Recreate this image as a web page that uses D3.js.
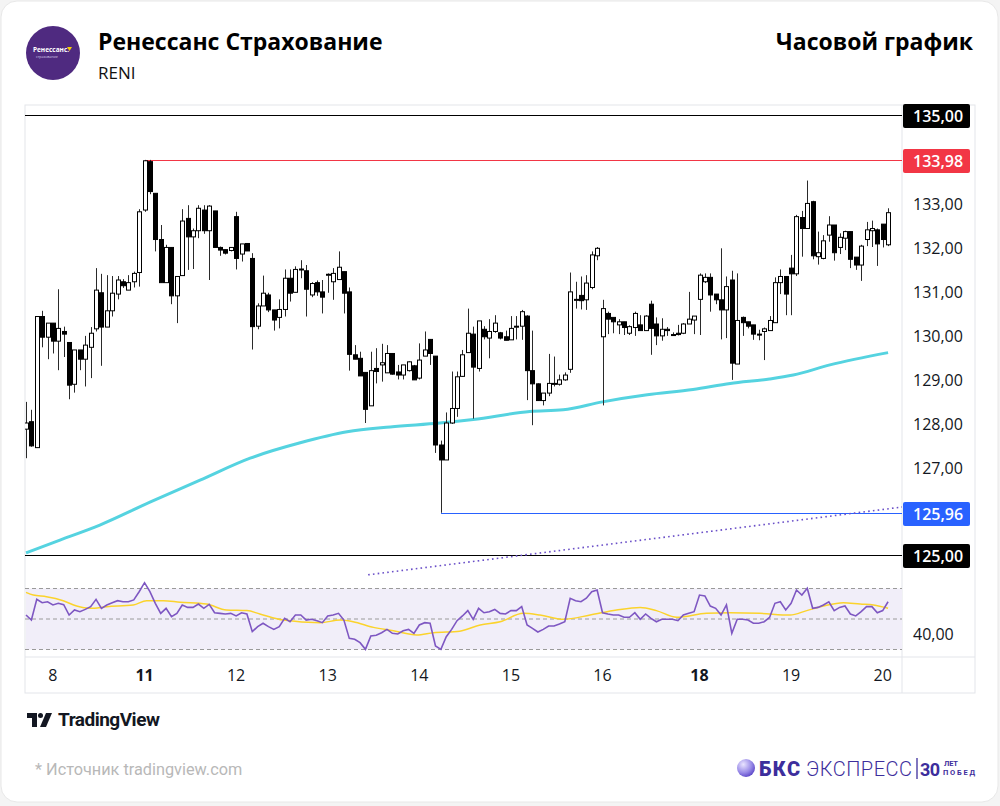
<!DOCTYPE html>
<html><head><meta charset="utf-8">
<script src="https://cdn.jsdelivr.net/npm/d3@7"></script>
<style>
html,body{margin:0;padding:0;background:#f4f4f4;}
svg{display:block;}
</style></head>
<body>
<svg id="chart" width="1000" height="806"></svg>
<script>
// ---------- DATA ----------
const title = "Ренессанс Страхование";
const ticker = "RENI";
const periodTitle = "Часовой график";

const opens = [127.86,128.03,127.44,130.42,129.95,130.27,129.86,130.08,129.83,128.88,129.66,129.45,129.72,130.14,130.96,130.18,130.55,130.93,131.21,131.02,131.21,131.42,132.84,133.94,133.22,132.17,131.19,131.99,130.89,131.35,132.65,132.23,132.37,132.84,132.37,132.82,131.99,131.94,131.92,132.69,131.84,132.08,131.74,130.2,130.66,130.91,130.57,130.4,130.58,131.29,130.97,131.49,131.46,130.91,131.19,130.98,131.37,131.21,131.26,131.44,130.98,129.55,129.47,129.15,128.39,129.24,129.32,129.14,129.58,129.16,129.09,129.19,129.3,129.02,129.52,129.9,129.52,127.5,127.16,128.0,128.33,129.06,129.6,130.02,129.24,130.13,129.93,130.08,130.05,129.96,129.89,130.18,130.2,130.43,129.19,128.89,128.51,128.68,128.89,128.88,128.98,129.22,130.8,130.9,130.8,131.08,131.8,129.96,130.49,130.4,130.23,130.3,130.04,130.17,130.23,130.1,130.7,130.25,129.98,130.13,130.01,130.04,130.04,130.25,130.34,130.81,131.21,131.31,130.93,130.8,130.57,131.25,129.34,130.4,130.3,130.23,130.02,130.08,130.1,130.28,131.19,131.33,131.52,131.39,132.67,132.42,133.03,131.78,131.74,132.27,132.5,131.99,132.2,132.35,131.77,131.59,132.17,132.37,132.39,132.52,132.05];
const highs = [128.48,128.3,130.42,130.55,130.27,130.27,131.04,130.19,129.83,129.66,129.66,129.98,130.18,131.52,131.39,131.36,131.34,131.34,131.27,131.36,131.44,132.86,133.98,133.98,133.22,132.5,132.05,131.99,131.33,132.86,132.95,132.42,132.95,132.95,132.95,132.82,132.01,131.94,132.0,132.8,132.07,132.08,131.86,130.72,131.35,130.96,130.57,130.81,131.49,131.49,131.56,131.7,131.59,131.2,131.24,131.25,131.4,131.52,131.9,131.44,131.08,129.77,129.62,129.15,129.62,129.7,129.8,129.77,129.58,129.32,129.32,129.4,129.32,129.81,130.08,129.9,129.52,127.6,128.24,129.17,129.17,129.66,130.6,130.19,130.32,130.2,130.36,130.45,130.07,130.1,130.43,130.43,130.57,130.45,130.1,128.9,128.68,129.57,129.51,129.1,129.15,131.42,131.21,131.33,131.36,131.9,132.0,130.8,130.53,130.4,130.36,130.3,130.22,130.53,130.45,130.45,130.78,130.4,130.38,130.18,130.06,130.23,130.27,130.98,130.43,131.4,131.4,131.4,130.93,131.97,131.33,131.46,131.4,130.42,130.3,130.23,130.12,130.17,130.43,131.31,131.49,131.33,131.82,132.73,132.82,133.51,133.05,132.35,132.27,132.7,132.5,132.31,132.37,132.35,131.77,132.05,132.57,132.6,132.42,132.52,132.88];
const lows = [127.2,127.46,127.44,129.72,129.45,129.58,129.2,129.5,128.54,128.69,129.2,128.83,129.02,130.08,129.3,130.18,130.42,130.81,131.07,131.02,131.08,131.1,132.8,133.2,131.9,131.19,131.19,130.7,130.27,131.35,131.48,131.5,132.2,132.3,131.25,131.99,131.8,131.83,131.9,131.49,131.67,131.91,129.67,130.13,130.66,130.52,130.1,130.15,130.42,130.76,130.97,131.29,130.42,130.86,130.89,130.49,130.96,130.8,131.26,130.49,129.19,129.45,129.07,128.0,128.39,128.9,128.94,129.14,129.1,128.99,128.99,129.17,128.98,128.99,129.52,129.32,127.32,125.96,127.16,127.98,128.14,129.05,129.6,128.1,129.17,129.9,129.47,130.05,129.9,129.88,129.89,129.9,129.89,128.52,127.95,128.5,128.4,128.61,128.83,128.85,128.96,129.14,130.6,130.58,130.57,131.04,131.7,128.4,130.02,130.04,130.02,130.0,130.0,129.98,130.1,130.1,129.55,129.77,129.87,129.98,129.98,129.99,130.02,130.25,130.02,130.0,131.18,130.53,130.7,129.9,129.93,128.98,129.34,129.98,130.15,129.89,129.88,129.43,130.1,130.28,130.93,130.45,130.45,131.34,131.78,132.42,131.72,131.6,131.72,132.12,131.69,131.84,131.93,131.52,131.48,131.23,132.02,132.0,131.57,131.99,132.02];
const closes = [128.0,127.48,130.42,129.95,130.27,129.86,130.15,130.02,128.86,129.66,129.45,129.77,130.04,131.02,130.18,130.55,130.95,131.25,131.12,131.19,131.4,132.8,133.96,133.26,132.17,131.19,131.99,130.89,131.33,132.59,132.23,132.37,132.88,132.37,132.93,131.99,131.93,131.86,131.99,131.74,132.07,131.91,130.19,130.66,130.95,130.57,130.34,130.58,131.29,130.95,131.49,131.5,131.04,131.17,130.98,130.86,131.38,131.4,131.54,130.95,129.56,129.45,129.07,128.31,129.19,129.17,129.37,129.58,129.11,129.09,129.32,129.39,128.98,129.43,129.66,129.58,127.5,127.16,128.0,128.33,129.05,129.55,130.04,129.27,130.32,129.96,130.08,130.27,129.93,129.88,130.15,130.2,130.53,129.19,128.89,128.51,128.68,128.9,128.9,128.98,129.09,130.98,130.81,130.78,131.18,131.82,131.97,130.6,130.36,130.3,130.3,130.17,130.19,130.49,130.1,130.43,130.15,129.98,130.13,130.1,130.0,130.01,130.25,130.36,130.43,131.36,131.31,130.91,130.8,130.57,131.1,129.36,130.33,130.28,130.2,130.02,130.01,130.14,130.33,131.19,131.33,130.93,131.39,132.69,132.42,132.99,131.8,131.87,132.14,132.5,131.87,132.22,132.35,131.72,131.59,132.02,132.39,132.42,132.07,132.17,132.78];

// long moving average (read at selected bars)
const maIndex = [0,6.3,13.7,23,32.3,41.6,50.9,59.6,67.6,76.8,83,93.5,99.7,107,115.3,123.8,130.7,138,142.4,149.2,160];
const maValue = [125.05,125.34,125.68,126.2,126.7,127.2,127.55,127.8,127.91,128.0,128.08,128.26,128.3,128.48,128.64,128.76,128.9,129.0,129.09,129.32,129.6];

// RSI (per bar) and its moving average (read at selected bars)
const rsi = [52.6,49.3,62.9,60.7,61.3,59.2,60.3,59.4,52.6,55.9,54.8,56.3,58.1,62.9,57.0,59.2,60.7,62.0,61.3,61.3,62.5,67.9,73.8,67.9,60.3,53.7,57.0,51.5,53.7,59.2,57.6,57.6,59.8,57.0,59.6,54.1,53.7,53.3,53.7,52.0,54.1,53.3,41.7,45.0,47.2,45.0,43.2,45.0,50.4,48.2,52.6,52.6,49.3,49.8,48.9,47.6,52.0,52.6,53.7,49.3,37.3,36.7,34.5,30.1,38.9,39.3,41.0,43.2,40.6,40.2,42.3,43.2,40.6,46.1,47.6,47.2,32.3,30.1,38.4,43.2,48.9,52.0,55.5,49.8,57.0,54.1,54.8,56.3,53.7,53.3,55.5,55.5,58.1,46.1,43.9,41.5,43.2,45.4,45.4,46.7,48.2,63.6,62.0,61.3,63.6,67.9,69.0,54.1,53.3,52.6,52.6,51.1,51.1,54.1,49.8,53.3,50.4,48.2,49.8,49.8,49.8,48.9,52.6,53.7,54.8,65.7,65.1,58.5,57.0,52.6,59.2,40.6,49.8,49.8,49.3,47.2,47.2,48.2,51.0,60.3,61.3,55.9,60.3,69.0,65.7,70.1,57.0,57.6,59.2,61.3,55.5,57.6,58.5,53.3,52.0,54.8,58.1,58.1,54.1,55.5,61.3];
const rsiMaIndex = [0,1.35,3.8,6.9,9.4,11.9,15,19.9,22.4,25.5,28.6,33.5,37.2,41,43.4,47.8,54.6,58.3,60.7,64.5,68.2,72.5,75.6,80.5,84.3,88,92.3,95.4,99.7,104.7,109.6,114,117,120.8,126.3,130.7,136.2,141.8,144.9,148,151.7,154.8,157.3,160];
const rsiMaValue = [67.5,65.7,64.6,62.0,58.5,57.0,58.1,59.2,62.0,62.0,61.0,59.8,55.9,55.5,53.3,49.3,47.6,49.3,48.2,44.5,42.3,39.5,41.0,42.0,46.1,48.2,53.7,52.6,49.8,52.6,55.9,57.6,55.5,51.1,53.7,54.1,53.7,52.6,55.5,58.5,60.7,59.8,59.2,57.0];

// axis ticks
const priceTicks = [127,128,129,130,131,132,133];
const dayLabels = ["8","11","12","13","14","15","16","18","19","20"];
const dayIndex = [5,22,39,56,73,90,107,125,142,159];
const boldDays = ["11","18"];

// reference levels
const levelValues = [135, 133.98, 125.96, 125];
const levelStartIndex = [null, 22, 77, null];
const levelColors = ["#000000", "#f23645", "#2962ff", "#000000"];

// dotted trendline (bar index, price)
const trendIndex = [63.5, 162.6];
const trendValue = [124.55, 126.09];

// ---------- DRAW ----------
const svg = d3.select("#chart");
const fmt = v => d3.format(".2f")(v).replace(".", ",");
const AX_FONT = "'Open Sans', sans-serif";

// card
svg.append("rect").attr("x",1).attr("y",1).attr("width",997).attr("height",801)
  .attr("rx",16).attr("fill","#fff").attr("stroke","#e8e8e8");

// header logo
const logo = svg.append("g").attr("transform","translate(53,53)");
logo.append("circle").attr("r",27).attr("fill","#4f2a80");
logo.append("text").attr("x",-2).attr("y",-1).attr("text-anchor","middle")
  .attr("font-family","Open Sans, sans-serif").attr("font-size",6.5).attr("font-weight",700)
  .attr("fill","#fff").text("Ренессанс.");
logo.append("path").attr("d","M14,-6 L19,-6 L16.5,-2 Z").attr("fill","#f5d000");
logo.append("text").attr("x",-17).attr("y",5).attr("font-family","Open Sans, sans-serif")
  .attr("font-size",3.5).attr("fill","#d8cfe8").text("страхование");

svg.append("text").attr("x",98).attr("y",50).attr("font-family","Open Sans, sans-serif")
  .attr("font-size",23).attr("font-weight",700).attr("fill","#000").text(title);
svg.append("text").attr("x",98).attr("y",79).attr("font-family","Open Sans, sans-serif")
  .attr("font-size",17).attr("fill","#111").text(ticker);
svg.append("text").attr("x",973).attr("y",50).attr("text-anchor","end").attr("font-family","Open Sans, sans-serif")
  .attr("font-size",23).attr("font-weight",700).attr("fill","#000").text(periodTitle);

// chart frame
const frame = {left:25, top:105, right:975, bottom:693, axisX:902, mainBottom:576, xAxisTop:657};
svg.append("rect").attr("x",frame.left).attr("y",frame.top).attr("width",frame.right-frame.left)
  .attr("height",frame.bottom-frame.top).attr("fill","#fff").attr("stroke","#e3e5ea");
svg.append("line").attr("x1",frame.axisX).attr("x2",frame.axisX).attr("y1",frame.top).attr("y2",frame.bottom)
  .attr("stroke","#e3e5ea");
svg.append("line").attr("x1",frame.left).attr("x2",frame.right).attr("y1",frame.xAxisTop).attr("y2",frame.xAxisTop)
  .attr("stroke","#e3e5ea");

// scales
const x = d3.scaleLinear().domain([0,160]).range([26, 888.08]);
const y = d3.scaleLinear().domain([125,135]).range([555,115]);
const yr = d3.scaleLinear().domain([30,70]).range([649.5,588.5]);

// clip for main pane
svg.append("clipPath").attr("id","mainClip").append("rect")
  .attr("x",frame.left).attr("y",frame.top).attr("width",frame.axisX-frame.left).attr("height",frame.mainBottom-frame.top);
const main = svg.append("g").attr("clip-path","url(#mainClip)");

// level lines (drawn as 1px filled bands)
const levelG = main.append("g").attr("class","levels");
levelValues.forEach((v,k)=>{
  const x1 = levelStartIndex[k]===null ? frame.left : Math.round(x(levelStartIndex[k]));
  levelG.append("rect")
    .attr("x", x1).attr("y", Math.round(y(v)))
    .attr("width", frame.axisX - x1).attr("height", 1)
    .attr("fill", levelColors[k]);
});

// MA line
const maData = maIndex.map((d,k)=>[d,maValue[k]]);
main.append("path").datum(maData)
  .attr("d", d3.line().x(d=>x(d[0])).y(d=>y(d[1])).curve(d3.curveMonotoneX))
  .attr("fill","none").attr("stroke","#55d3e0").attr("stroke-width",3);

// candles
const candles = opens.map((o,i)=>({i,o,h:highs[i],l:lows[i],c:closes[i]}));
const cg = main.append("g");
cg.selectAll("line.wick").data(candles).join("line").attr("class","wick")
  .attr("x1",d=>Math.round(x(d.i))+0.5).attr("x2",d=>Math.round(x(d.i))+0.5)
  .attr("y1",d=>y(d.h)).attr("y2",d=>y(d.l)).attr("stroke","#2a2a2a").attr("stroke-width",1);
cg.selectAll("rect.body").data(candles).join("rect").attr("class","body")
  .attr("x",d=>Math.round(x(d.i))-1.5).attr("width",4)
  .attr("y",d=>y(Math.max(d.o,d.c)))
  .attr("height",d=>Math.max(1,Math.abs(y(d.o)-y(d.c))))
  .attr("fill",d=>d.c>=d.o?"#fff":"#000").attr("stroke","#000").attr("stroke-width",1);

// dotted trendline
main.append("line").attr("x1",x(trendIndex[0])).attr("y1",y(trendValue[0]))
  .attr("x2",x(trendIndex[1])).attr("y2",y(trendValue[1]))
  .attr("stroke","#6a4fc8").attr("stroke-width",1.6).attr("stroke-dasharray","1.6,3.2");

// price axis labels
const axisG = svg.append("g").attr("font-family",AX_FONT).attr("font-size",16);
axisG.selectAll("text.tick").data(priceTicks).join("text")
  .attr("x",913).attr("y",d=>y(d)+1).attr("dominant-baseline","central")
  .attr("font-weight",500).attr("fill","#131722").text(d=>fmt(d));
levelValues.forEach((v,k)=>{
  const cy = Math.round(y(v))+1;
  axisG.append("rect").attr("x",903).attr("y",cy-12).attr("width",67).attr("height",24)
    .attr("rx",2).attr("fill",levelColors[k]);
  axisG.append("text").attr("x",913).attr("y",cy).attr("dominant-baseline","central")
    .attr("font-weight",600).attr("fill","#fff").text(fmt(v));
});

// RSI pane
svg.append("rect").attr("x",frame.left+1).attr("y",yr(70)).attr("width",frame.axisX-frame.left-1)
  .attr("height",yr(30)-yr(70)).attr("fill","#f1eef9");
[70,50,30].forEach(v=>{
  svg.append("line").attr("x1",frame.left).attr("x2",frame.axisX).attr("y1",yr(v)).attr("y2",yr(v))
    .attr("stroke","#9a9a9a").attr("stroke-dasharray","4,3").attr("stroke-width",1);
});
svg.append("clipPath").attr("id","rsiClip").append("rect")
  .attr("x",frame.left).attr("y",frame.mainBottom).attr("width",frame.axisX-frame.left).attr("height",frame.xAxisTop-frame.mainBottom);
const rsiG = svg.append("g").attr("clip-path","url(#rsiClip)");
rsiG.append("path").datum(rsiMaIndex.map((d,k)=>[d,rsiMaValue[k]]))
  .attr("d", d3.line().x(d=>x(d[0])).y(d=>yr(d[1])).curve(d3.curveMonotoneX))
  .attr("fill","none").attr("stroke","#fbd32c").attr("stroke-width",1.5);
rsiG.append("path").datum(rsi)
  .attr("d", d3.line().x((d,i)=>x(i)).y(d=>yr(d)))
  .attr("fill","none").attr("stroke","#7e57c2").attr("stroke-width",1.6);
axisG.append("text").attr("x",913).attr("y",yr(40)).attr("dominant-baseline","central")
  .attr("font-weight",500).attr("fill","#131722").text(fmt(40));

// x axis
const xg = svg.append("g").attr("font-family",AX_FONT).attr("font-size",16);
xg.selectAll("text").data(dayLabels).join("text")
  .attr("x",(d,k)=>x(dayIndex[k])).attr("y",675).attr("text-anchor","middle").attr("dominant-baseline","central")
  .attr("font-weight",d=>boldDays.includes(d)?700:500).attr("fill","#131722").text(d=>d);

// TradingView logo
const tv = svg.append("g").attr("transform","translate(27,713)");
tv.append("path").attr("d","M0,0 H10 V14 H5 V5 H0 Z").attr("fill","#131722");
tv.append("circle").attr("cx",13.5).attr("cy",2.5).attr("r",2.5).attr("fill","#131722");
tv.append("path").attr("d","M19,0 H25 L19,14 H13 Z").attr("fill","#131722");
svg.append("text").attr("x",58).attr("y",726).attr("font-family","Roboto, sans-serif")
  .attr("font-size",19).attr("font-weight",700).attr("fill","#131722").attr("letter-spacing","-0.5").text("TradingView");

// source
svg.append("text").attr("x",35).attr("y",775).attr("font-family","Roboto, sans-serif")
  .attr("font-size",16.3).attr("fill","#b8b8b8").text("*  Источник tradingview.com");

// BKS logo
const defs = svg.append("defs");
const grad = defs.append("radialGradient").attr("id","bksGrad").attr("cx","35%").attr("cy","30%").attr("r","75%");
grad.append("stop").attr("offset","0%").attr("stop-color","#e9e4ff");
grad.append("stop").attr("offset","60%").attr("stop-color","#9b8de8");
grad.append("stop").attr("offset","100%").attr("stop-color","#5a45c8");
svg.append("circle").attr("cx",746).attr("cy",768).attr("r",9).attr("fill","url(#bksGrad)");
svg.append("text").attr("x",759).attr("y",776).attr("font-family","Roboto, sans-serif").attr("font-size",20)
  .attr("font-weight",900).attr("fill","#3d2e9c").attr("textLength",41).text("БКС");
svg.append("text").attr("x",806).attr("y",776).attr("font-family","Roboto, sans-serif").attr("font-size",20)
  .attr("font-weight",300).attr("fill","#3d2e9c").attr("textLength",106).text("ЭКСПРЕСС");
svg.append("line").attr("x1",917).attr("x2",917).attr("y1",758).attr("y2",779).attr("stroke","#3d2e9c").attr("stroke-width",1.3);
svg.append("text").attr("x",920).attr("y",776).attr("font-family","Roboto, sans-serif").attr("font-size",18)
  .attr("font-weight",700).attr("fill","#3d2e9c").attr("textLength",20).text("30");
svg.append("text").attr("x",944).attr("y",766).attr("font-family","Roboto, sans-serif").attr("font-size",7.5)
  .attr("font-weight",700).attr("fill","#3d2e9c").attr("textLength",14).text("ЛЕТ");
svg.append("text").attr("x",943).attr("y",775).attr("font-family","Roboto, sans-serif").attr("font-size",7.5)
  .attr("font-weight",700).attr("fill","#3d2e9c").attr("textLength",32).text("ПОБЕД");
</script>
</body></html>
